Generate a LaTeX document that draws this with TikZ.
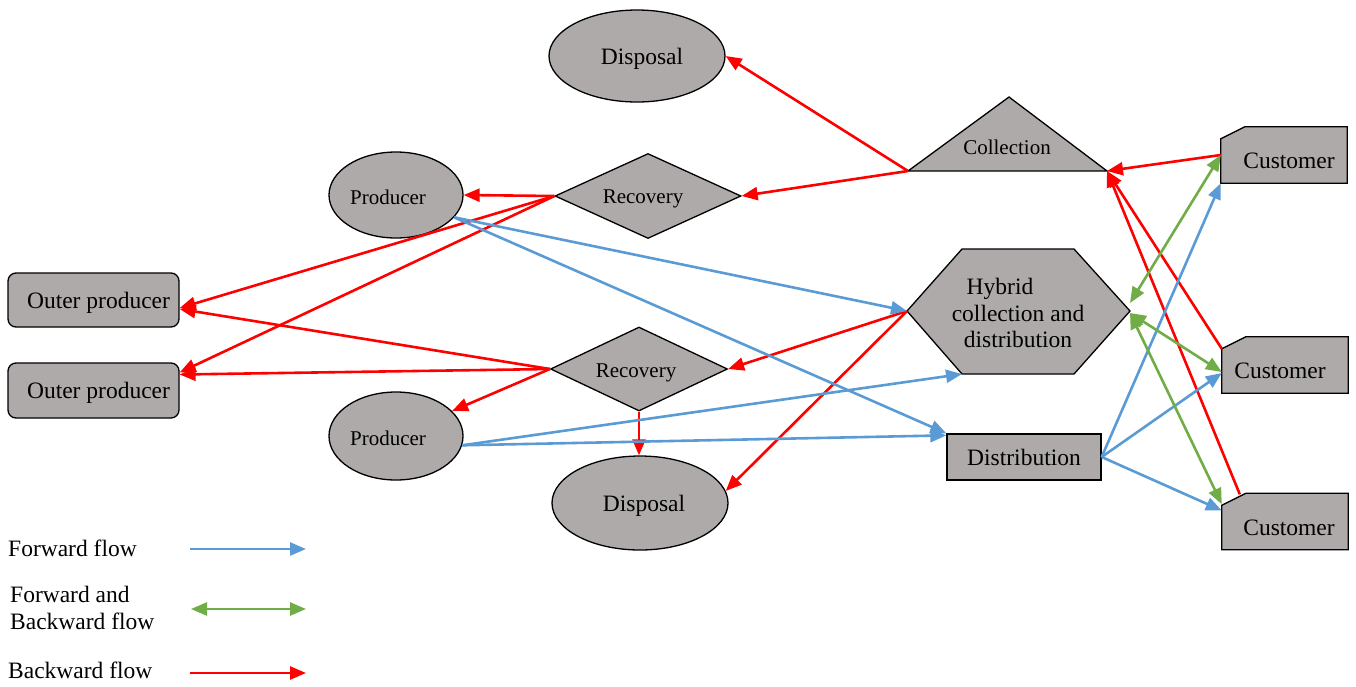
\documentclass[tikz,border=0pt]{standalone}
\usepackage{fontspec}
\setmainfont{Liberation Serif}
\usetikzlibrary{arrows.meta,shapes.geometric,calc}
\definecolor{shapegray}{RGB}{174,170,169}
\definecolor{fwblue}{RGB}{91,155,213}
\definecolor{bgreen}{RGB}{112,173,71}
\definecolor{bkred}{RGB}{255,0,0}
\tikzset{
 shp/.style={draw=black, line width=1.3pt, fill=shapegray, inner sep=0pt},
 big/.style={font=\fontsize{23.5}{26.5}\selectfont},
 small/.style={font=\fontsize{21}{24}\selectfont},
 txt/.style={inner sep=0pt},
 fwd/.style={draw=fwblue, line width=2.6pt, -{Triangle[length=16pt,width=13pt]}},
 bwd/.style={draw=bkred, line width=2.6pt, -{Triangle[length=16pt,width=13pt]}},
 both/.style={draw=bgreen, line width=2.6pt, {Triangle[length=16pt,width=13pt]}-{Triangle[length=16pt,width=13pt]}},
 ell/.style={shp, ellipse},
 dia/.style={shp, diamond, aspect=2.2},
 box/.style={shp, rectangle},
 custbox/.style={rectangle, minimum width=126pt, minimum height=56pt, inner sep=0pt},
}
\begin{document}
\begin{tikzpicture}[x=1pt,y=-1pt]
\useasboundingbox (0,0) rectangle (1356,686);

% ellipses
\node[ell, minimum width=176pt, minimum height=92pt] (d1) at (637,56) {};
\node[big, txt] (d1t) at (642,59) {Disposal};
\node[ell, minimum width=176pt, minimum height=94pt] (d2) at (640,503) {};
\node[big, txt] (d2t) at (644,506) {Disposal};
\node[ell, minimum width=134pt, minimum height=86pt] (p1) at (396,195) {};
\node[small, txt] (p1t) at (388,197) {Producer};
\node[ell, minimum width=134pt, minimum height=88pt] (p2) at (396,436) {};
\node[small, txt] (p2t) at (388,438) {Producer};

% diamonds
\node[dia, minimum width=186pt, minimum height=85pt] (rec1) at (648,196) {};
\node[small, txt] (rec1t) at (643,199) {Recovery};
\node[dia, minimum width=177pt, minimum height=84pt] (rec2) at (639,369) {};
\node[small, txt] (rec2t) at (636,373) {Recovery};

% outer producers
\node[box, rounded corners=8pt, minimum width=171pt, minimum height=54pt] (o1) at (93.5,300) {};
\node[big, txt] (o1t) at (98.5,303) {Outer producer};
\node[box, rounded corners=8pt, minimum width=171pt, minimum height=55pt] (o2) at (93.5,390.5) {};
\node[big, txt] (o2t) at (98.5,393) {Outer producer};

% distribution
\node[box, big, minimum width=154pt, minimum height=46pt] (dist) at (1024,457) {Distribution};

% collection triangle
\draw[shp] (908,171) coordinate (colL) -- (1009,97) -- (1107,171) coordinate (colR) -- cycle;
\node[small, txt] (col) at (1007,147) {Collection};

% hybrid hexagon
\draw[shp] (907,311) coordinate (hybL) -- (962,249) -- (1074,249) -- (1130,311) coordinate (hybR) -- (1074,374) -- (962,374) coordinate (hybBL) -- cycle;
\node[big, txt, align=center] (hyb) at (1018,313) {Hybrid\hspace*{36pt}\\collection and\\distribution};

% customers
\node[custbox] (cus1) at (1284,155) {};
\node[custbox] (cus2) at (1285,365) {};
\node[custbox] (cus3) at (1285,521.5) {};
\foreach \c in {cus1,cus2,cus3}{
  \draw[shp] (\c.south west) -- ([yshift=-12pt]\c.north west) -- ([xshift=24pt]\c.north west) -- (\c.north east) -- (\c.south east) -- cycle;
}
\node[big, txt] (t1) at (1289,161) {Customer};
\node[big, txt] (t2) at (1280,371) {Customer};
\node[big, txt] (t3) at (1289,528) {Customer};

% backward flows
\draw[bwd] (colL) -- (d1.east);
\draw[bwd] (colL) -- (rec1.east);
\draw[bwd] (cus1.west) -- (colR);
\draw[bwd] ([yshift=-12pt]cus2.north west) -- (colR);
\draw[bwd] ([xshift=18pt,yshift=-1pt]cus3.north west) -- (colR);
\draw[bwd] (rec1.west) -- (p1.east);
\draw[bwd] (rec1.west) -- ([yshift=-8pt]o1.east);
\draw[bwd] (rec1.west) -- ([yshift=18pt]o2.east);
\draw[bwd] (rec2.west) -- ([yshift=-9pt]o1.east);
\draw[bwd] (rec2.west) -- ([yshift=16pt]o2.east);
\draw[bwd] (rec2.west) -- (p2.24);
\draw[bwd] (rec2.south) -- (rec2.south |- d2.north);
\draw[bwd] (hybL) -- (rec2.east);
\draw[bwd] (hybL) -- (d2.8);

% forward flows
\draw[fwd] (p1.-21) -- (hybL);
\draw[fwd] (p1.-21) -- (dist.north west);
\draw[fwd] (p2.-8) -- (hybBL);
\draw[fwd] (p2.-8) -- ([yshift=-2pt]dist.north west);
\draw[fwd] (dist.east) -- (cus1.south west);
\draw[fwd] (dist.east) -- ([yshift=-8pt]cus2.west);
\draw[fwd] (dist.east) -- ([yshift=11pt]cus3.west);

% forward and backward flows
\draw[both] ([yshift=8pt]hybR) -- (cus1.west);
\draw[both] ([yshift=-2pt]hybR) -- ([yshift=-7pt]cus2.west);
\draw[both] ([yshift=-2pt]hybR) -- ([yshift=-11pt]cus3.north west);

% legend
\node[big, txt, anchor=west] (lg1) at (8,548) {Forward flow};
\coordinate (lf1) at (190,549); \coordinate (lf2) at (306,549);
\draw[fwd] (lf1) -- (lf2);
\node[big, txt, anchor=west, align=left] (lg2) at (10,608) {Forward and\\Backward flow};
\coordinate (lb1) at (191,609); \coordinate (lb2) at (306,609);
\draw[both] (lb1) -- (lb2);
\node[big, txt, anchor=west] (lg3) at (8,670) {Backward flow};
\coordinate (lr1) at (190,673); \coordinate (lr2) at (306,673);
\draw[bwd] (lr1) -- (lr2);
\end{tikzpicture}
\end{document}
